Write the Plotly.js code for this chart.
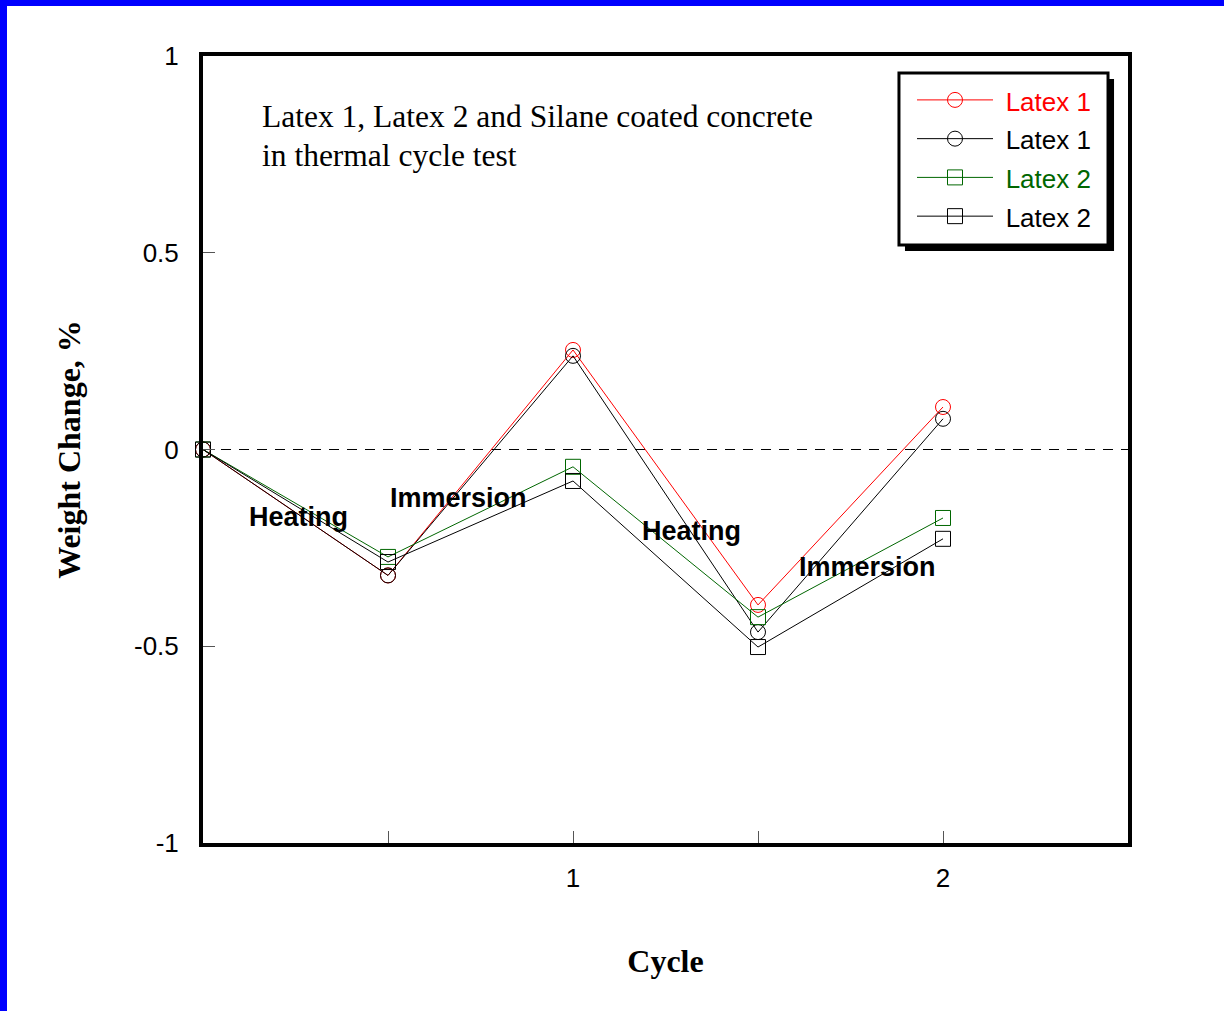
<!DOCTYPE html>
<html>
<head>
<meta charset="utf-8">
<script src="https://cdn.plot.ly/plotly-3.0.1.min.js"></script>
<style>
  html, body { margin: 0; padding: 0; background: #fff; }
  #wrap { position: relative; width: 1224px; height: 1011px; }
  #chart { position: absolute; left: 0; top: 0; width: 1224px; height: 1011px; }
  .edge { position: absolute; background: #0000ff; }
</style>
</head>
<body>
<div id="wrap">
  <div id="chart"></div>
  <div class="edge" style="left:0;top:0;width:1224px;height:6px;"></div>
  <div class="edge" style="left:0;top:0;width:7px;height:1011px;"></div>
</div>
<script>
// Cycle positions: start, after heating, after immersion (cycle 1), ...
const cycle = [0, 0.5, 1, 1.5, 2];

// Weight change (%) for each specimen
const latex1A = [0, -0.32, 0.253, -0.395, 0.108];
const latex1B = [0, -0.32, 0.238, -0.464, 0.078];
const latex2A = [0, -0.273, -0.044, -0.426, -0.174];
const latex2B = [0, -0.286, -0.080, -0.502, -0.227];

const xTickVals = [0.5, 1, 1.5, 2];
const xTickText = ['', '1', '', '2'];
const yTickVals = [-1, -0.5, 0, 0.5, 1];
const yTickText = ['-1', '-0.5', '0', '0.5', '1'];

// Phase labels placed along the curves
const phaseText = ['Heating', 'Immersion', 'Heating', 'Immersion'];
const phaseX = [0.2575, 0.691, 1.320, 1.797];
const phaseY = [-0.1715, -0.123, -0.207, -0.299];

// Description lines in the upper-left corner
const noteLines = ['Latex 1, Latex 2 and Silane coated concrete', 'in thermal cycle test'];
const noteY = [0.845, 0.748];

const RED = '#ff0000', BLACK = '#000000', GREEN = '#006600';

function series(y, color, symbol, name) {
  return {
    x: cycle, y: y, type: 'scatter', mode: 'lines+markers',
    name: '&nbsp;<span style="font-size:26px;color:' + color + '">' + name + '</span>',
    line: { color: color, width: 1 },
    marker: { symbol: symbol, size: 15, color: color, line: { color: color, width: 1 } },
    cliponaxis: false
  };
}

const traces = [
  series(latex1A, RED, 'circle-open', 'Latex 1'),
  series(latex1B, BLACK, 'circle-open', 'Latex 1'),
  series(latex2A, GREEN, 'square-open', 'Latex 2'),
  series(latex2B, BLACK, 'square-open', 'Latex 2')
];

const annotations = phaseText.map((t, i) => ({
  x: phaseX[i], y: phaseY[i], xref: 'x', yref: 'y',
  text: '<b>' + t + '</b>', showarrow: false,
  font: { family: 'Liberation Sans, Arial, sans-serif', size: 27, color: '#000' }
}));
noteLines.forEach((t, i) => annotations.push({
  x: 0.1545, y: noteY[i], xref: 'x', yref: 'y', xanchor: 'left', yanchor: 'middle',
  align: 'left', showarrow: false, text: t,
  font: { family: 'Liberation Serif, Times New Roman, serif', size: 31.5, color: '#000' }
}));

// Legend frame with a drop shadow (paper coordinates)
const legendFrame = [
  { type: 'rect', xref: 'paper', yref: 'paper', layer: 'above',
    x0: 0.7589, x1: 0.9849, y0: 0.7522, y1: 0.9708,
    fillcolor: '#000', line: { width: 0 } },
  { type: 'rect', xref: 'paper', yref: 'paper', layer: 'above',
    x0: 0.7524, x1: 0.9784, y0: 0.7598, y1: 0.9784,
    fillcolor: '#fff', line: { color: '#000', width: 3 } }
];

const layout = {
  width: 1224, height: 1011,
  margin: { l: 203, r: 96, t: 56, b: 168 },
  paper_bgcolor: '#ffffff', plot_bgcolor: '#ffffff',
  font: { family: 'Liberation Sans, Arial, sans-serif', size: 26, color: '#000' },
  showlegend: true,
  legend: {
    x: 0.7665, y: 0.9752, xanchor: 'left', yanchor: 'top',
    bgcolor: 'rgba(0,0,0,0)', borderwidth: 0,
    font: { family: 'Liberation Sans, Arial, sans-serif', size: 27.5 },
    itemwidth: 76, tracegroupgap: 0
  },
  xaxis: {
    range: [0, 2.5], showgrid: false, zeroline: false,
    tickmode: 'array', tickvals: xTickVals, ticktext: xTickText,
    ticks: 'inside', ticklen: 12, tickcolor: '#555', tickwidth: 1,
    ticklabelstandoff: 9,
    showline: true, linecolor: '#000', linewidth: 4, mirror: true,
    title: { text: '<b>Cycle</b>', standoff: 58,
      font: { family: 'Liberation Serif, Times New Roman, serif', size: 32 } }
  },
  yaxis: {
    range: [-1, 1], showgrid: false, zeroline: false,
    tickmode: 'array', tickvals: yTickVals, ticktext: yTickText,
    ticks: 'inside', ticklen: 12, tickcolor: '#555', tickwidth: 1,
    ticklabelstandoff: 15,
    showline: true, linecolor: '#000', linewidth: 4, mirror: true,
    title: { text: '<b>Weight Change, %</b>', standoff: 45,
      font: { family: 'Liberation Serif, Times New Roman, serif', size: 32 } }
  },
  shapes: [
    { type: 'line', xref: 'x', yref: 'y', x0: 0, x1: 2.5, y0: 0, y1: 0,
      line: { color: '#000', width: 1, dash: '10px,8px' }, layer: 'below' }
  ].concat(legendFrame),
  annotations: annotations
};

Plotly.newPlot('chart', traces, layout, { displayModeBar: false, staticPlot: true });
</script>
</body>
</html>
